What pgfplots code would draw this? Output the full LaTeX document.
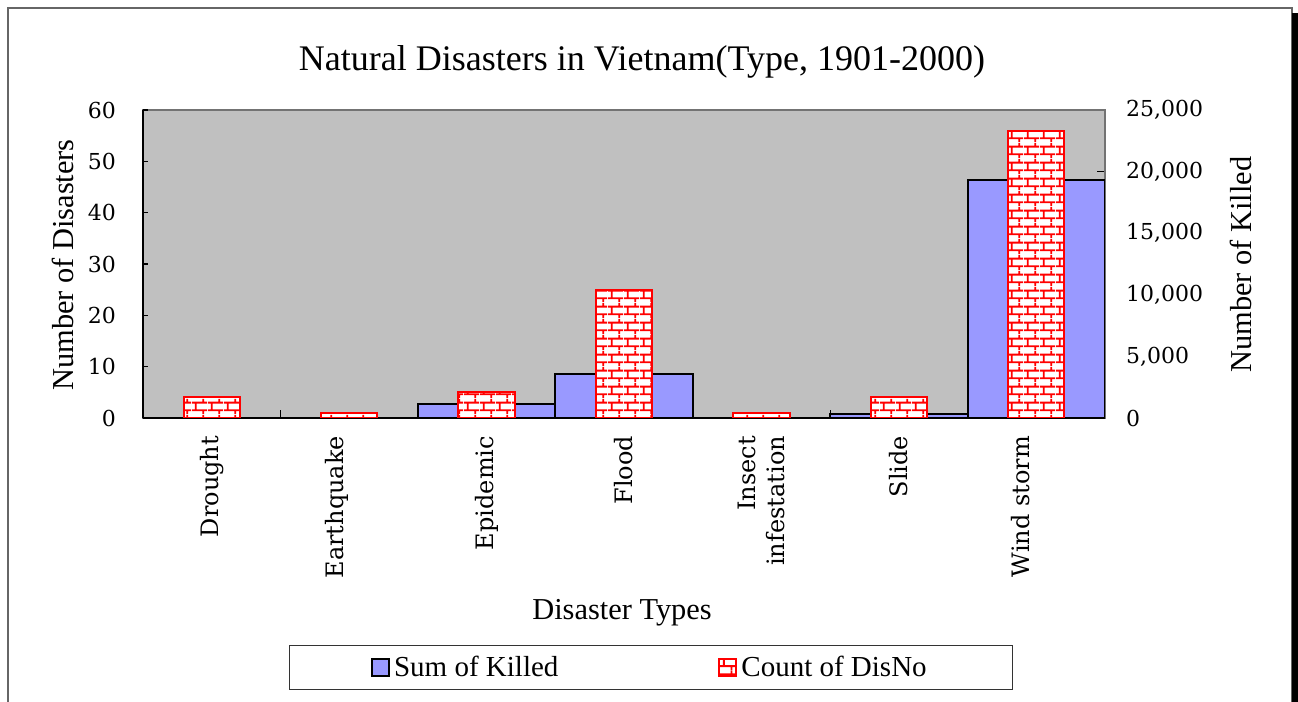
\documentclass[border=0pt]{standalone}
\usepackage{fontspec}
\setmainfont{Liberation Serif}
\newfontfamily\dvs{DejaVu Serif}
\usepackage{pgfplots}
\pgfplotsset{compat=1.18}
\usetikzlibrary{patterns.meta}
\definecolor{bggray}{HTML}{C0C0C0}
\definecolor{killblue}{HTML}{9999FF}
\tikzdeclarepattern{
  name=mybricks, type=uncolored,
  bounding box={(0pt,0pt) and (8pt,8pt)},
  tile size={(8pt,8pt)},
  code={
    \draw[line width=1pt] (0pt,2pt) -- (8pt,2pt) (0pt,6pt) -- (8pt,6pt)
      (2pt,2pt) -- (2pt,6pt) (6pt,6pt) -- (6pt,8pt) (6pt,0pt) -- (6pt,2pt);
  }
}
\pgfplotsset{sqleg/.style={legend image code/.code={\draw[##1] (0pt,-4.25pt) rectangle (8.5pt,4.25pt);}}}
\newcommand{\labshift}[2]{\raisebox{#1}[\height][\depth]{#2}}
\begin{document}
\begin{tikzpicture}
\useasboundingbox (0,0) rectangle (649pt,351pt);
\fill[white] (0,0) rectangle (649pt,351pt);
\draw[black!60, line width=0.7pt] (4pt,-2pt) rectangle (646pt,347pt);
\fill[black] (646pt,-2pt) rectangle (650pt,344.5pt);

% right axis: Sum of Killed
\begin{axis}[
  at={(71.5pt,142pt)}, anchor=south west,
  width=481pt, height=154pt, scale only axis,
  xmin=-0.5, xmax=6.5, ymin=0, ymax=25000,
  axis background/.style={fill=bggray},
  axis line style={draw=black!55, line width=0.6pt},
  ytick={0,5000,10000,15000,20000,25000},
  ytick pos=right, yticklabel pos=right,
  xtick={0.5,1.5,2.5,3.5,4.5,5.5}, xticklabel=\empty, xtick pos=bottom,
  tick align=inside, major tick length=4pt,
  tick style={black, line width=0.6pt},
  scaled y ticks=false,
  yticklabel style={font=\dvs\fontsize{11}{13}\selectfont, xshift=7pt},
  /pgf/number format/.cd, fixed, 1000 sep={,}, assume math mode=true,
]
\addplot[ybar, bar width=1, fill=killblue, draw=black, line width=1pt]
  coordinates {(2,1100) (3,3600) (5,300) (6,19300)};
\end{axis}

% left axis: Count of DisNo
\begin{axis}[
  at={(71.5pt,142pt)}, anchor=south west,
  width=481pt, height=154pt, scale only axis,
  xmin=-0.5, xmax=6.5, ymin=0, ymax=60,
  axis y line*=left, axis x line*=bottom,
  axis line style={black, line width=0.8pt},
  ytick={0,10,20,30,40,50,60},
  xtick={0,1,2,3,4,5,6},
  xticklabels={Drought,\labshift{6pt}{Earthquake},Epidemic,Flood,{Insect\\infestation},Slide,\labshift{8pt}{Wind storm}},
  x tick style={draw=none},
  y tick style={black, line width=0.6pt},
  tick align=inside, major tick length=2.5pt,
  xticklabel style={yshift=-5.5pt, rotate=90, anchor=east, align=right, font=\dvs\fontsize{12}{14.5}\selectfont},
  yticklabel style={font=\dvs\fontsize{11}{13}\selectfont, xshift=-10pt},
  /pgf/number format/assume math mode=true,
  legend style={at={(0.528,-0.81)}, anchor=center, draw=black!80, line width=0.6pt,
    font=\fontsize{14.5}{16}\selectfont, inner xsep=41pt, inner ysep=3pt,
    /tikz/every even column/.append style={column sep=78pt}},
  legend columns=2, legend cell align=left,
]
\addlegendimage{sqleg, fill=killblue, draw=black, line width=1pt}
\addlegendentry{Sum of Killed}
\addplot[ybar, bar width=0.41, fill=white, draw=red, line width=1pt,
  postaction={pattern={mybricks}, pattern color=red}, sqleg]
  coordinates {(0,4) (1,1) (2,5) (3,25) (4,1) (5,4) (6,56)};
\addlegendentry{Count of DisNo}
\end{axis}

\node[font=\fontsize{18}{20}\selectfont, anchor=base] at (321pt,315.5pt) {Natural Disasters in Vietnam(Type, 1901-2000)};
\node[font=\fontsize{15.2}{17}\selectfont, anchor=base] at (311pt,41pt) {Disaster Types};
\node[font=\fontsize{15.2}{17}\selectfont, rotate=90, anchor=base] at (36.5pt,218.5pt) {Number of Disasters};
\node[font=\fontsize{15.2}{17}\selectfont, rotate=90, anchor=base] at (625.5pt,218.75pt) {Number of Killed};
\end{tikzpicture}
\end{document}
